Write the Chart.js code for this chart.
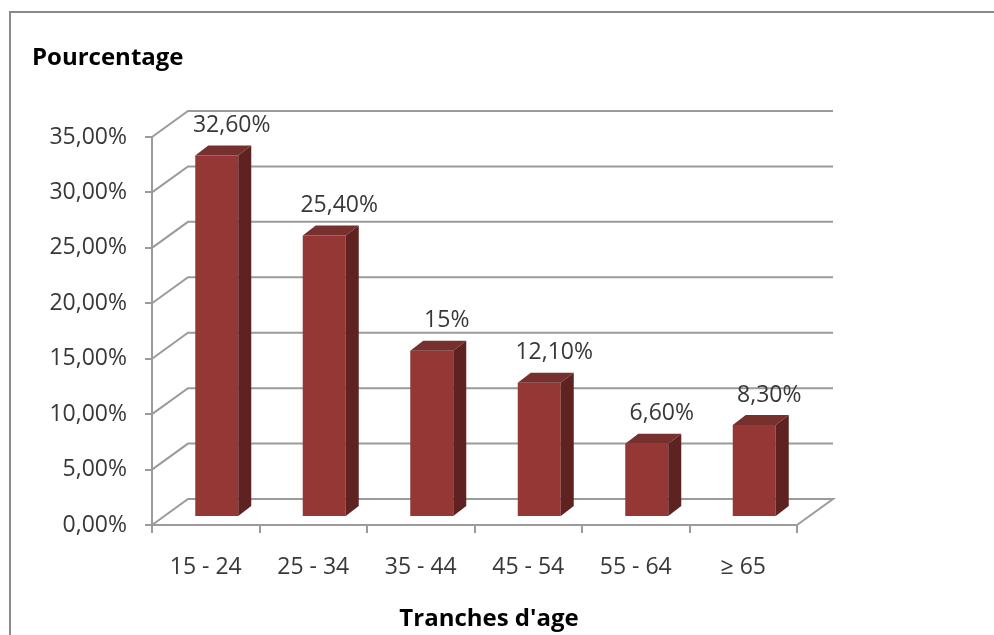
<!DOCTYPE html>
<html>
<head>
<meta charset="utf-8">
<script src="https://cdn.jsdelivr.net/npm/chart.js@4.4.0/dist/chart.umd.min.js"></script>
<style>
  html, body { margin: 0; padding: 0; background: #ffffff; }
  canvas { display: block; }
</style>
</head>
<body>
<canvas id="c" width="994" height="635"></canvas>
<script>
// ---- data ----
const categories = ['15 - 24', '25 - 34', '35 - 44', '45 - 54', '55 - 64', '\u2265 65'];
const values = [32.6, 25.4, 15, 12.1, 6.6, 8.3];
const valueLabels = ['32,60%', '25,40%', '15%', '12,10%', '6,60%', '8,30%'];
const yTickValues = [0, 5, 10, 15, 20, 25, 30, 35];
const yTickLabels = ['0,00%', '5,00%', '10,00%', '15,00%', '20,00%', '25,00%', '30,00%', '35,00%'];
const yAxisTitle = 'Pourcentage';
const xAxisTitle = "Tranches d'age";

// ---- style / geometry ----
const GRID = '#9b9b9b';
const DX = 36, DY = -26;          // depth of the 3D floor / walls
const F = 0.31;                    // depth position of bar front faces
const BDX = 13, BDY = -10;         // bar depth
const FONT = 'Open Sans';
const TXT = '#383838';

const threeD = {
  id: 'threeD',
  beforeDraw(chart) {
    const ctx = chart.ctx;
    ctx.save();
    ctx.fillStyle = '#ffffff';
    ctx.fillRect(0, 0, chart.width, chart.height);
    ctx.strokeStyle = '#8a8a8a';
    ctx.lineWidth = 2;
    ctx.strokeRect(10, 12, 1100, 800);
    ctx.restore();
  },
  beforeDatasetsDraw(chart) {
    const ctx = chart.ctx;
    const ys = chart.scales.y, xs = chart.scales.x;
    const L = xs.left, R = xs.right;
    ctx.save();
    ctx.strokeStyle = GRID;
    ctx.lineWidth = 2;
    ctx.lineJoin = 'miter';
    yTickValues.forEach(v => {
      const y = ys.getPixelForValue(v);
      ctx.beginPath();
      ctx.moveTo(L, y);
      ctx.lineTo(L + DX, y + DY);
      ctx.lineTo(R + DX, y + DY);
      if (v === 0) ctx.lineTo(R, y);
      ctx.stroke();
    });
    ctx.restore();
    ctx.save();
    ctx.translate(Math.round(DX * F), Math.round(DY * F));
  },
  afterDatasetsDraw(chart) {
    const ctx = chart.ctx;
    const meta = chart.getDatasetMeta(0);
    meta.data.forEach(el => {
      const p = el.getProps(['x', 'y', 'base', 'width'], true);
      const l = p.x - p.width / 2, r = p.x + p.width / 2;
      // top face
      ctx.fillStyle = '#76302d';
      ctx.beginPath();
      ctx.moveTo(l, p.y);
      ctx.lineTo(l + BDX, p.y + BDY);
      ctx.lineTo(r + BDX, p.y + BDY);
      ctx.lineTo(r, p.y);
      ctx.closePath();
      ctx.fill();
      // side face
      ctx.fillStyle = '#5e2220';
      ctx.beginPath();
      ctx.moveTo(r, p.y);
      ctx.lineTo(r + BDX, p.y + BDY);
      ctx.lineTo(r + BDX, p.base + BDY);
      ctx.lineTo(r, p.base);
      ctx.closePath();
      ctx.fill();
    });
    ctx.restore();
    // value labels
    ctx.save();
    ctx.font = '23px "' + FONT + '"';
    ctx.fillStyle = TXT;
    ctx.textAlign = 'center';
    ctx.textBaseline = 'middle';
    meta.data.forEach((el, i) => {
      const p = el.getProps(['x', 'y'], true);
      ctx.fillText(valueLabels[i], p.x + 26, p.y - 38);
    });
    ctx.restore();
  },
  afterDraw(chart) {
    const ctx = chart.ctx;
    ctx.save();
    ctx.fillStyle = '#000000';
    ctx.font = 'bold 24px "' + FONT + '"';
    ctx.textBaseline = 'middle';
    ctx.textAlign = 'left';
    ctx.fillText(yAxisTitle, 32, 58);
    ctx.textAlign = 'center';
    ctx.fillText(xAxisTitle, 489, 619);
    ctx.restore();
  }
};

new Chart(document.getElementById('c'), {
  type: 'bar',
  data: {
    labels: categories,
    datasets: [{
      data: values,
      backgroundColor: '#953735',
      borderWidth: 0,
      categoryPercentage: 1.0,
      barPercentage: 0.4
    }]
  },
  options: {
    responsive: false,
    animation: false,
    events: [],
    layout: { padding: { left: 0, top: 137, right: 197, bottom: 0 } },
    plugins: {
      legend: { display: false },
      tooltip: { enabled: false },
      title: { display: false }
    },
    scales: {
      x: {
        type: 'category',
        offset: true,
        grid: { display: true, drawOnChartArea: false, drawTicks: true, tickLength: 8, color: GRID, lineWidth: 2, offset: true },
        border: { display: true, color: GRID, width: 2 },
        ticks: { font: { family: FONT, size: 23 }, color: TXT, padding: 21, maxRotation: 0 },
        afterFit(s) { s.height = 110; }
      },
      y: {
        min: 0,
        max: 35,
        afterBuildTicks(s) { s.ticks = yTickValues.map(v => ({ value: v })); },
        grid: { display: true, drawOnChartArea: false, drawTicks: true, tickLength: 7, color: GRID, lineWidth: 2 },
        border: { display: true, color: GRID, width: 2 },
        ticks: {
          font: { family: FONT, size: 23 },
          color: TXT,
          padding: 18,
          callback: (v) => yTickLabels[yTickValues.indexOf(v)]
        },
        afterFit(s) { s.width = 152; }
      }
    }
  },
  plugins: [threeD]
});
</script>
</body>
</html>
